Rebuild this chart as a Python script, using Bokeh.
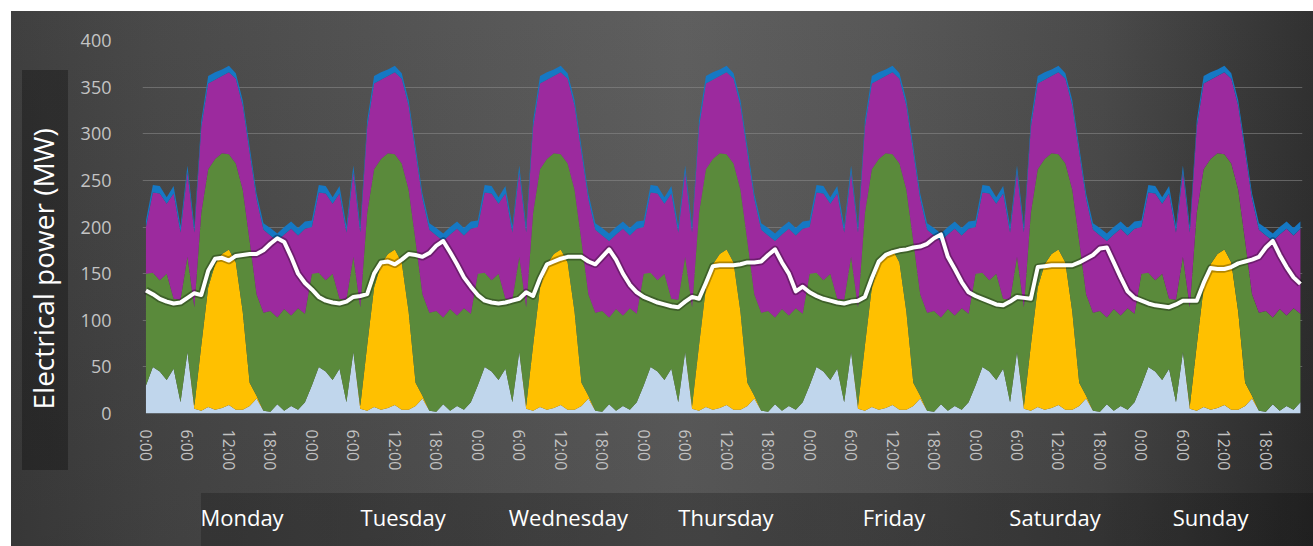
from bokeh.plotting import figure
from bokeh.models import ColumnDataSource, FixedTicker, LinearAxis, Title, Range1d
from bokeh.embed import file_html
from bokeh.resources import INLINE

# ---------------- data ----------------
days = ["Monday", "Tuesday", "Wednesday", "Thursday", "Friday", "Saturday", "Sunday"]
hour_labels = ["0:00", "6:00", "12:00", "18:00"]
hour_ticks_of_day = [0, 6, 12, 18]
y_ticks = [0, 50, 100, 150, 200, 250, 300, 350, 400]

# daily generation profile (MW per hour, same each day), stacked bottom -> top
light_blue = [30, 50, 45, 36, 48, 12, 66, 5, 3, 7, 4, 6, 9, 4, 4, 8, 16, 3, 2, 10, 3, 8, 4, 12]
yellow = [0, 0, 0, 0, 0, 0, 0, 3, 70, 128, 156, 165, 167, 158, 105, 25, 3, 0, 0, 0, 0, 0, 0, 0]
green = [120, 101, 98, 114, 75, 110, 102, 106, 142, 127, 113, 108, 102, 106, 131, 152,
         109, 105, 108, 93, 109, 97, 109, 95]
purple = [50, 86, 93, 75, 113, 72, 91, 80, 92, 92, 85, 83, 88, 91, 90, 95,
          102, 89, 81, 82, 80, 93, 78, 91]
blue = [7, 8, 8, 7, 8, 7, 7, 7, 7, 8, 8, 7, 7, 6, 6, 6, 6, 7, 8, 8, 8, 8, 8, 8]

# demand (white line), one list per day
demand_mon = [132, 128, 123, 120, 118, 119, 124, 129, 127, 153, 166, 167, 164, 169, 170, 171, 171, 175, 182, 188, 184, 168, 150, 140]
demand_tue = [133, 125, 121, 119, 118, 120, 125, 126, 128, 150, 162, 163, 160, 165, 171, 170, 168, 172, 180, 185, 173, 160, 146, 136]
demand_wed = [127, 121, 119, 118, 119, 121, 123, 130, 126, 145, 160, 163, 166, 168, 168, 168, 163, 160, 168, 176, 165, 150, 138, 130]
demand_thu = [125, 122, 119, 117, 115, 114, 120, 125, 123, 140, 158, 159, 159, 159, 160, 162, 162, 163, 170, 176, 162, 150, 131, 136]
demand_fri = [130, 126, 123, 121, 119, 118, 120, 121, 125, 145, 163, 170, 173, 175, 176, 178, 179, 182, 188, 192, 168, 155, 141, 130]
demand_sat = [126, 123, 120, 117, 116, 120, 125, 124, 123, 157, 158, 159, 159, 159, 159, 162, 166, 170, 177, 178, 162, 146, 131, 124]
demand_sun = [121, 118, 116, 115, 114, 117, 121, 121, 121, 140, 156, 155, 155, 157, 161, 163, 165, 168, 178, 185, 170, 157, 146, 139]

# where the day names sit along the hour axis
day_label_hours = [13.9, 37.2, 61.1, 83.9, 108.2, 131.5, 154.0]

# ---------------- build ----------------
n_days = len(days)
hours = list(range(24 * n_days))
demand = (demand_mon + demand_tue + demand_wed + demand_thu +
          demand_fri + demand_sat + demand_sun)

source = ColumnDataSource(dict(
    hour=hours,
    lb=light_blue * n_days,
    yl=yellow * n_days,
    gr=green * n_days,
    pu=purple * n_days,
    bl=blue * n_days,
    demand=demand,
))

FONT = "Open Sans"

p = figure(
    width=1313, height=546,
    x_range=Range1d(-0.5, 167.3), y_range=Range1d(0, 400),
    output_backend="svg", toolbar_location=None,
    min_border_left=142, min_border_right=11, min_border_top=40, min_border_bottom=133,
)
p.background_fill_color = None
p.border_fill_color = None
p.outline_line_color = None

p.styles = {
    "background": (
        "linear-gradient(#ffffff,#ffffff) 0 0 / 100% 11px no-repeat,"
        "linear-gradient(#ffffff,#ffffff) 0 0 / 11px 100% no-repeat,"
        "linear-gradient(rgba(0,0,0,0.30),rgba(0,0,0,0.30)) 22px 70px / 46px 400px no-repeat,"
        "linear-gradient(rgba(0,0,0,0.22),rgba(0,0,0,0.22)) 201px 493px / 1112px 53px no-repeat,"
        "linear-gradient(to bottom, rgba(255,255,255,0.03), rgba(0,0,0,0.06)),"
        "linear-gradient(to right, #393939 0%, #444444 12%, #515151 35%, #5a5a5a 52%, "
        "#525252 68%, #454545 84%, #2b2b2b 100%)"
    )
}

p.varea_stack(
    stackers=["lb", "yl", "gr", "pu", "bl"], x="hour", source=source,
    color=["#c0d6ec", "#ffc000", "#5a8a3b", "#9c2a9e", "#1578c4"],
)

p.line("hour", "demand", source=source, line_color="#000000", line_alpha=0.3,
       line_width=7.5, line_join="round")
p.line("hour", "demand", source=source, line_color="#ffffff", line_width=4,
       line_join="round")

# grid
p.xgrid.grid_line_color = None
p.ygrid.grid_line_color = "#8c8c8c"
p.ygrid.grid_line_alpha = 0.55
p.ygrid.ticker = FixedTicker(ticks=y_ticks)

# y axis
p.yaxis.ticker = FixedTicker(ticks=y_ticks)
p.yaxis.axis_line_color = None
p.yaxis.major_tick_line_color = None
p.yaxis.minor_tick_line_color = None
p.yaxis.major_label_standoff = 25
p.yaxis.major_label_text_font = FONT
p.yaxis.major_label_text_font_size = "18px"
p.yaxis.major_label_text_color = "#c4c4c4"

# x axis (hours)
x_ticks = [d * 24 + h for d in range(n_days) for h in hour_ticks_of_day]
p.xaxis.ticker = FixedTicker(ticks=x_ticks)
p.xaxis.major_label_overrides = {t: hour_labels[i % 4] for i, t in enumerate(x_ticks)}
p.xaxis.major_label_orientation = "vertical"
p.xaxis.axis_line_color = None
p.xaxis.major_tick_line_color = None
p.xaxis.minor_tick_line_color = None
p.xaxis.major_label_standoff = 10
p.xaxis.major_label_text_font = FONT
p.xaxis.major_label_text_font_size = "16px"
p.xaxis.major_label_text_color = "#c2c2c2"

# day axis
day_axis = LinearAxis(
    ticker=FixedTicker(ticks=day_label_hours),
    major_label_overrides={t: d for t, d in zip(day_label_hours, days)},
)
day_axis.axis_line_color = None
day_axis.major_tick_line_color = None
day_axis.minor_tick_line_color = None
day_axis.major_label_standoff = 22
day_axis.major_label_text_font = FONT
day_axis.major_label_text_font_size = "22px"
day_axis.major_label_text_color = "#ffffff"
p.add_layout(day_axis, "below")

# y title
ytitle = Title(text="Electrical power (MW)", align="left", offset=4, standoff=32,
               text_font=FONT, text_font_size="28px", text_font_style="normal",
               text_color="#ffffff")
p.add_layout(ytitle, "left")

open("out.html", "w").write(file_html(p, INLINE))
